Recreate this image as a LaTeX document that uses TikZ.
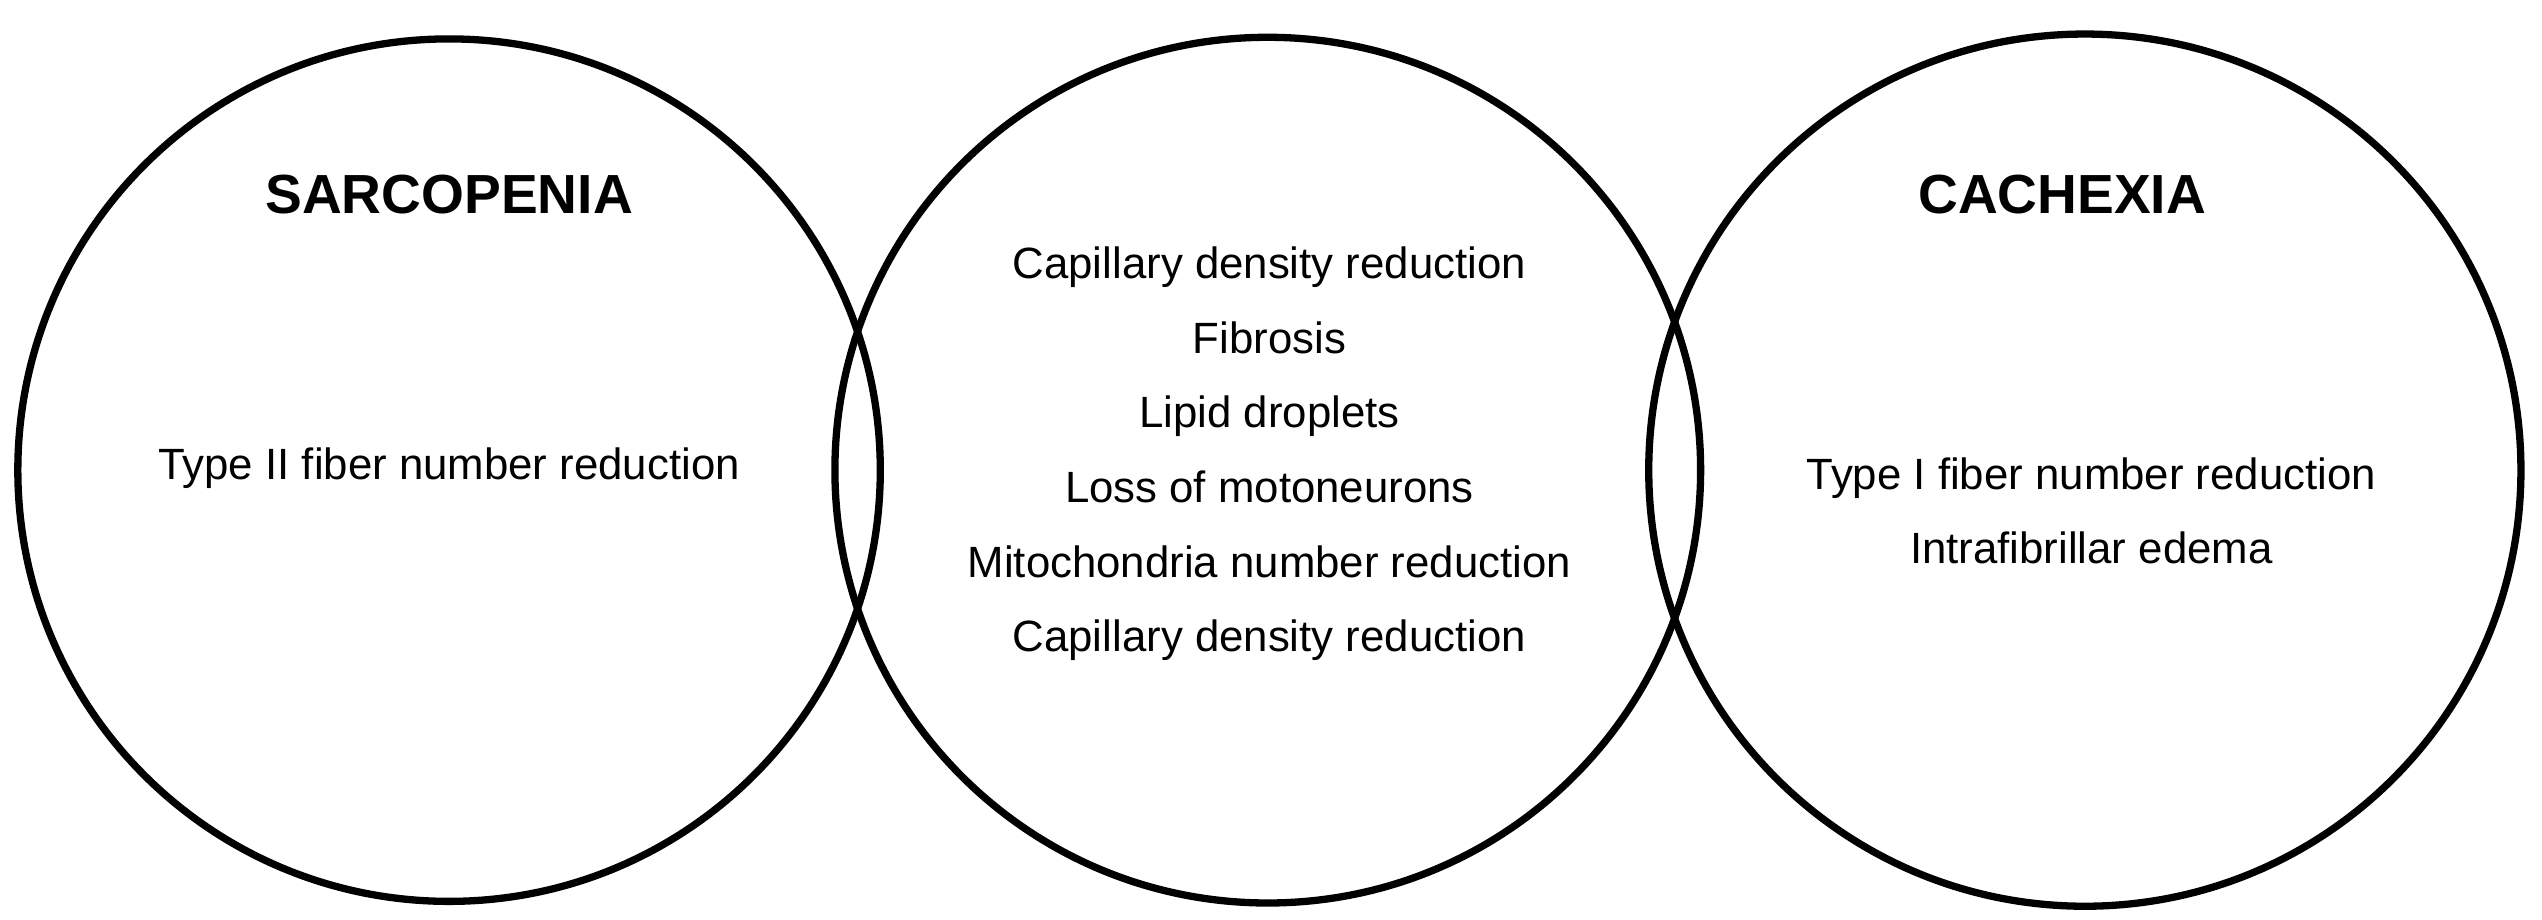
\documentclass[tikz,border=0pt]{standalone}
\usepackage{fontspec}
\setmainfont{Liberation Sans}
\begin{document}
\begin{tikzpicture}[x=1pt,y=-1pt,
  ring/.style={draw=black,line width=4.5pt,circle,inner sep=0pt},
  lbl/.style={font=\fontsize{27}{46}\selectfont,align=center,inner sep=0pt},
  ttl/.style={font=\bfseries\fontsize{34}{40}\selectfont,inner sep=0pt}]
\useasboundingbox (0,0) rectangle (1568,567);
\node[ring,minimum size=532pt] (L) at (277,290) {};
\node[ring,minimum size=534pt] (M) at (782,290) {};
\node[ring,minimum size=538pt] (R) at (1286,290) {};
\node[ttl] (t1) at (277,120) {SARCOPENIA};
\node[ttl] (t2) at (1272,120) {CACHEXIA};
\node[lbl] (a) at (277,289) {Type II fiber number reduction};
\node[lbl] (b) at (783,280) {Capillary density reduction\\Fibrosis\\Lipid droplets\\Loss of motoneurons\\Mitochondria number reduction\\Capillary density reduction};
\node[lbl] (c) at (1290,315) {Type I fiber number reduction\\Intrafibrillar edema};
\end{tikzpicture}
\end{document}
